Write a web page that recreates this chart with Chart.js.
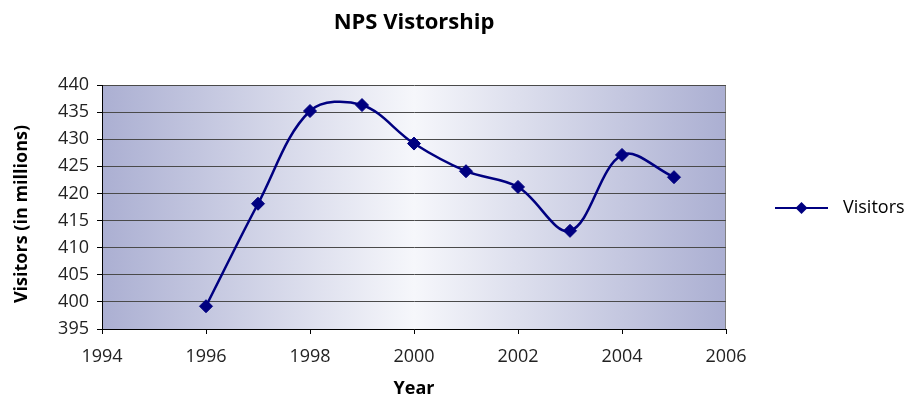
<!DOCTYPE html>
<html>
<head>
<meta charset="utf-8">
<title>NPS Vistorship</title>
<script src="https://cdn.jsdelivr.net/npm/chart.js@4.4.1/dist/chart.umd.min.js"></script>
<style>
  html, body { margin: 0; padding: 0; background: #ffffff; }
  #wrap { width: 905px; height: 400px; }
</style>
</head>
<body>
<div id="wrap"><canvas id="npsChart"></canvas></div>
<script>
// data
const years = [1996, 1997, 1998, 1999, 2000, 2001, 2002, 2003, 2004, 2005];
const visitors = [399.2, 418.1, 435.2, 436.3, 429.2, 424.1, 421.2, 413.1, 427.1, 423.0];
const xTicks = [1994, 1996, 1998, 2000, 2002, 2004, 2006];
const yTicks = [395, 400, 405, 410, 415, 420, 425, 430, 435, 440];
const seriesName = 'Visitors';

const NAVY = '#000080';
const FONT = '"Open Sans", "Noto Sans", sans-serif';

// gradient fill behind the plot, plus the grey right edge
const plotBackground = {
    id: 'plotBackground',
    beforeDraw(chart) {
        const { ctx, chartArea: a } = chart;
        const g = ctx.createLinearGradient(a.left, 0, a.right, 0);
        g.addColorStop(0, '#abafd2');
        g.addColorStop(0.5, '#f6f7fb');
        g.addColorStop(1, '#abafd2');
        ctx.save();
        ctx.fillStyle = g;
        ctx.fillRect(a.left, a.top, a.right - a.left, a.bottom - a.top);
        ctx.strokeStyle = '#808080';
        ctx.lineWidth = 1;
        ctx.beginPath();
        ctx.moveTo(a.right - 0.5, a.top);
        ctx.lineTo(a.right - 0.5, a.bottom);
        ctx.stroke();
        ctx.restore();
    }
};

// legend entry: line with a diamond, as the spreadsheet draws it
const lineLegend = {
    id: 'lineLegend',
    afterDraw(chart) {
        const { ctx, chartArea: a } = chart;
        const y = (a.top + a.bottom) / 2 + 1;
        const x0 = a.right + 49, x1 = a.right + 102;
        ctx.save();
        ctx.strokeStyle = NAVY;
        ctx.lineWidth = 2;
        ctx.beginPath();
        ctx.moveTo(x0, y);
        ctx.lineTo(x1, y);
        ctx.stroke();
        const cx = (x0 + x1) / 2, r = 6;
        ctx.fillStyle = NAVY;
        ctx.beginPath();
        ctx.moveTo(cx, y - r);
        ctx.lineTo(cx + r, y);
        ctx.lineTo(cx, y + r);
        ctx.lineTo(cx - r, y);
        ctx.closePath();
        ctx.fill();
        ctx.fillStyle = '#000';
        ctx.font = '18px ' + FONT;
        ctx.textBaseline = 'middle';
        ctx.fillText(seriesName, a.right + 117, y);
        ctx.restore();
    }
};

new Chart(document.getElementById('npsChart'), {
    type: 'line',
    data: {
        datasets: [{
            label: seriesName,
            data: years.map((yr, i) => ({ x: yr, y: visitors[i] })),
            borderColor: NAVY,
            backgroundColor: NAVY,
            borderWidth: 2.5,
            tension: 0.35,
            pointStyle: 'rectRot',
            pointRadius: 6.5,
            pointHoverRadius: 6.5,
            pointBorderWidth: 1
        }]
    },
    options: {
        responsive: true,
        maintainAspectRatio: false,
        animation: false,
        layout: { padding: { left: 0, right: 179, top: 0, bottom: 0 } },
        plugins: {
            legend: { display: false },
            tooltip: { enabled: false },
            title: {
                display: true,
                text: 'NPS Vistorship',
                fullSize: false,
                color: '#000',
                font: { family: FONT, size: 22, weight: 'bold' },
                padding: { top: 10, bottom: 48.6 }
            }
        },
        scales: {
            x: {
                type: 'linear',
                min: 1994,
                max: 2006,
                afterBuildTicks: (scale) => { scale.ticks = xTicks.map(v => ({ value: v })); },
                afterFit: (scale) => { scale.height = 71; },
                ticks: {
                    color: '#222',
                    font: { family: FONT, size: 18 },
                    padding: 12,
                    callback: (v) => String(v)
                },
                grid: { drawOnChartArea: false, tickColor: '#000', tickLength: 5 },
                border: { color: '#000', width: 1 },
                title: {
                    display: true,
                    text: 'Year',
                    color: '#000',
                    font: { family: FONT, size: 18, weight: 'bold' },
                    padding: { top: 0, bottom: 0 }
                }
            },
            y: {
                min: 395,
                max: 440,
                afterBuildTicks: (scale) => { scale.ticks = yTicks.map(v => ({ value: v })); },
                afterFit: (scale) => { scale.width = 102; },
                ticks: {
                    color: '#222',
                    font: { family: FONT, size: 18 },
                    padding: 8
                },
                grid: { color: '#4a4a4a', lineWidth: 1, tickColor: '#000', tickLength: 5 },
                border: { color: '#000', width: 1 },
                title: {
                    display: true,
                    text: 'Visitors (in millions)   ',
                    color: '#000',
                    font: { family: FONT, size: 18, weight: 'bold' },
                    padding: { top: 11, bottom: 0 }
                }
            }
        }
    },
    plugins: [plotBackground, lineLegend]
});
</script>
</body>
</html>
